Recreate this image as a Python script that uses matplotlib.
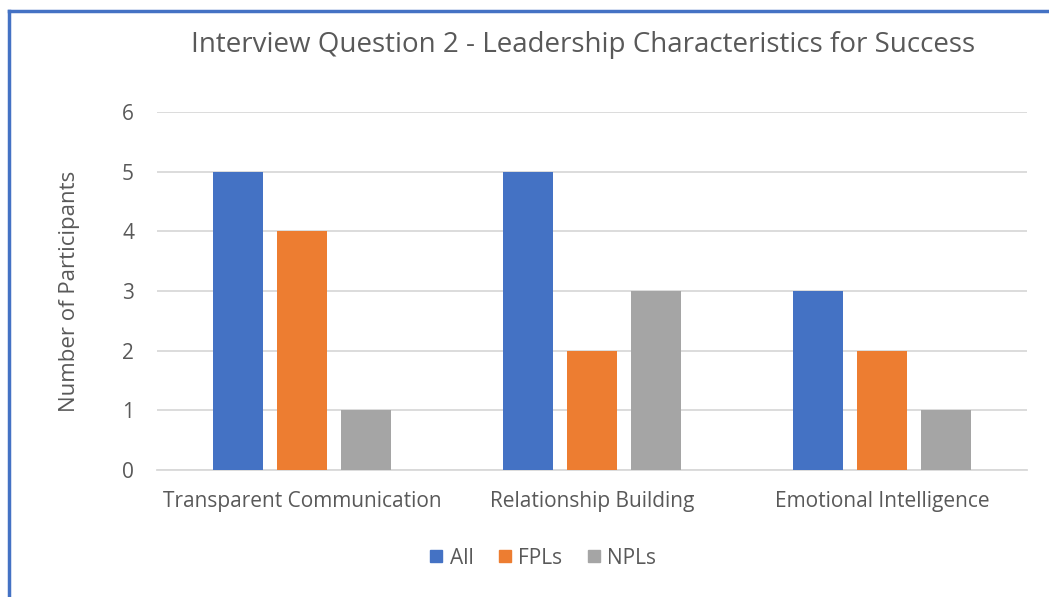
import matplotlib.pyplot as plt
import numpy as np
from matplotlib.lines import Line2D

categories = ['Transparent Communication', 'Relationship Building', 'Emotional Intelligence']
series_names = ['All', 'FPLs', 'NPLs']
all_vals = [5, 5, 3]
fpl_vals = [4, 2, 2]
npl_vals = [1, 3, 1]
colors = ['#4472C4', '#ED7D31', '#A5A5A5']

plt.rcParams['font.family'] = ['Open Sans', 'DejaVu Sans']
text_color = '#595959'

fig = plt.figure(figsize=(10.49, 5.97), dpi=100)
ax = fig.add_axes([157 / 1049, 1 - 470 / 597, 870 / 1049, 358 / 597])

x = np.arange(len(categories))
width = 0.172
step = 0.2207
for i, (vals, name) in enumerate(zip([all_vals, fpl_vals, npl_vals], series_names)):
    ax.bar(x + (i - 1) * step, vals, width, color=colors[i], label=name, zorder=3)

ax.set_xlim(-0.5, 2.5)
ax.set_ylim(0, 6)
ax.set_yticks(range(0, 7))
ax.set_xticks(x)
ax.set_xticklabels(categories)
ax.grid(axis='y', color='#D9D9D9', linewidth=1.3, zorder=0)
for s in ['top', 'right', 'left']:
    ax.spines[s].set_visible(False)
ax.spines['bottom'].set_color('#D9D9D9')
ax.spines['bottom'].set_linewidth(1.3)
ax.tick_params(axis='both', length=0, labelsize=15, colors=text_color)
ax.tick_params(axis='y', pad=16.5)
ax.tick_params(axis='x', pad=15)
ax.set_ylabel('Number of Participants', fontsize=16, color=text_color, labelpad=30)

fig.text(583 / 1049, 1 - 45 / 597, 'Interview Question 2 - Leadership Characteristics for Success',
         ha='center', va='center', fontsize=20, color=text_color)

handles = [Line2D([], [], marker='s', linestyle='', markersize=8, color=c) for c in colors]
fig.legend(handles, series_names, loc='center', bbox_to_anchor=(543 / 1049, 1 - 558 / 597),
           ncol=3, frameon=False, fontsize=15, labelcolor=text_color,
           handlelength=0.6, handletextpad=0.35, columnspacing=1.2)

# chart border (only top and left edges are visible in the crop)
fig.add_artist(Line2D([9 / 1049, 9 / 1049], [0, 1 - 11 / 597], color='#4472C4', linewidth=2.5))
fig.add_artist(Line2D([9 / 1049, 1], [1 - 11 / 597, 1 - 11 / 597], color='#4472C4', linewidth=2.5))

fig.savefig('out.png', dpi=100)
